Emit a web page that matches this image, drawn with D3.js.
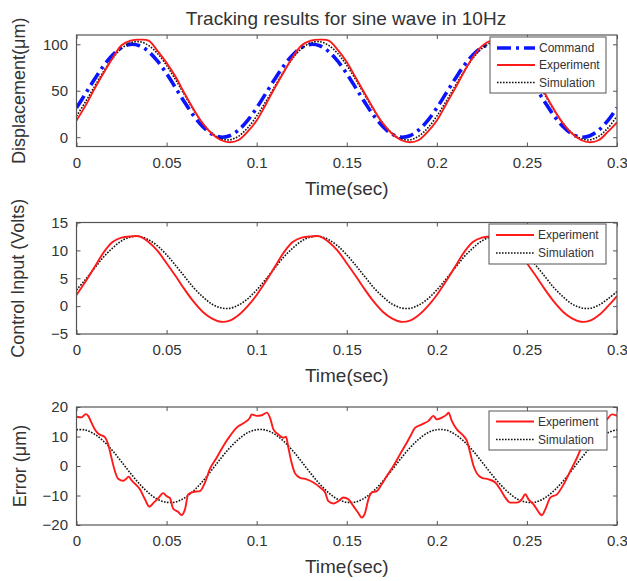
<!DOCTYPE html>
<html>
<head>
<meta charset="utf-8">
<script src="https://cdn.jsdelivr.net/npm/d3@7"></script>
<style>
  body { margin: 0; background: #fff; }
  text { font-family: "Liberation Sans", Arial, Helvetica, sans-serif; fill: #333; }
</style>
</head>
<body>
<svg id="chart" width="627" height="581"></svg>
<script>
// Sample times (s)
const time = [0,0.005,0.01,0.015,0.02,0.025,0.03,0.035,0.04,0.045,
  0.05,0.055,0.06,0.065,0.07,0.075,0.08,0.085,0.09,0.095,
  0.1,0.105,0.11,0.115,0.12,0.125,0.13,0.135,0.14,0.145,
  0.15,0.155,0.16,0.165,0.17,0.175,0.18,0.185,0.19,0.195,
  0.2,0.205,0.21,0.215,0.22,0.225,0.23,0.235,0.24,0.245,
  0.25,0.255,0.26,0.265,0.27,0.275,0.28,0.285,0.29,0.295,0.3];

const xTicks = [0, 0.05, 0.1, 0.15, 0.2, 0.25, 0.3];
const xTickLabels = ["0", "0.05", "0.1", "0.15", "0.2", "0.25", "0.3"];

// Displacement (um)
const dispCommand = [31.6,46.9,62.4,76.8,88.5,96.5,99.9,98.4,92.2,81.9,68.4,53.1,37.6,23.2,11.5,3.5,0.1,1.6,7.8,18.1,
  31.6,46.9,62.4,76.8,88.5,96.5,99.9,98.4,92.2,81.9,68.4,53.1,37.6,23.2,11.5,3.5,0.1,1.6,7.8,18.1,
  31.6,46.9,62.4,76.8,88.5,96.5,99.9,98.4,92.2,81.9,68.4,53.1,37.6,23.2,11.5,3.5,0.1,1.6,7.8,18.1,31.6];
const dispExperiment = [18,34,52,69,85,99,104,105,104,93,80,65,47,30,15,4,-3,-5.5,-3,6,
  18,35,53,70,86,99,104,105,104,94,81,64,47,30,15,4,-3,-5.5,-3,6,
  18,35,52,70,86,98,104,105,103,93,80,64,47,30,15,4,-3,-5.5,-3,6,16];
const dispSimulation = [22.7,38.1,54.6,70.7,84.8,95.4,101.6,102.8,98.8,90.0,77.3,61.9,45.4,29.3,15.2,4.6,-1.6,-2.8,1.2,10.0,
  22.7,38.1,54.6,70.7,84.8,95.4,101.6,102.8,98.8,90.0,77.3,61.9,45.4,29.3,15.2,4.6,-1.6,-2.8,1.2,10.0,
  22.7,38.1,54.6,70.7,84.8,95.4,101.6,102.8,98.8,90.0,77.3,61.9,45.4,29.3,15.2,4.6,-1.6,-2.8,1.2,10.0,22.7];
const dispTicks = [0, 50, 100];

// Control input (V)
const ctrlExperiment = [2.0,4.4,7.0,9.6,11.5,12.3,12.5,12.5,11.5,9.9,7.7,5.4,3.0,0.8,-1.0,-2.2,-2.8,-2.6,-1.6,0.0,
  2.0,4.4,7.0,9.6,11.5,12.3,12.5,12.5,11.5,9.9,7.7,5.4,3.0,0.8,-1.0,-2.2,-2.8,-2.6,-1.6,0.0,
  2.0,4.4,7.0,9.6,11.5,12.3,12.5,12.5,11.5,9.9,7.7,5.4,3.0,0.8,-1.0,-2.2,-2.8,-2.6,-1.6,0.0,1.8];
const ctrlSimulation = [2.9,4.8,6.8,8.8,10.4,11.7,12.4,12.5,11.9,10.8,9.2,7.3,5.3,3.3,1.7,0.4,-0.3,-0.4,0.2,1.3,
  2.9,4.8,6.8,8.8,10.4,11.7,12.4,12.5,11.9,10.8,9.2,7.3,5.3,3.3,1.7,0.4,-0.3,-0.4,0.2,1.3,
  2.9,4.8,6.8,8.8,10.4,11.7,12.4,12.5,11.9,10.8,9.2,7.3,5.3,3.3,1.7,0.4,-0.3,-0.4,0.2,1.3,2.6];
const ctrlTicks = [-5, 0, 5, 10, 15];

// Tracking error (um)
const errSimulation = [12.3,12.2,10.8,8.4,5.2,1.4,-2.5,-6.1,-9.1,-11.3,-12.3,-12.2,-10.8,-8.4,-5.2,-1.4,2.5,6.1,9.1,11.3,
  12.3,12.2,10.8,8.4,5.2,1.4,-2.5,-6.1,-9.1,-11.3,-12.3,-12.2,-10.8,-8.4,-5.2,-1.4,2.5,6.1,9.1,11.3,
  12.3,12.2,10.8,8.4,5.2,1.4,-2.5,-6.1,-9.1,-11.3,-12.3,-12.2,-10.8,-8.4,-5.2,-1.4,2.5,6.1,9.1,11.3,12.3];
const errExperimentTime = [0,0.0028,0.0052,0.0065,0.0083,0.0102,0.012,0.0139,0.0157,0.0176,0.0194,0.0213,0.0231,0.026,0.0278,0.029,0.0305,0.0324,0.0352,0.038,
  0.0405,0.0426,0.0454,0.0481,0.05,0.0519,0.0537,0.0565,0.0583,0.0602,0.062,0.0648,0.0685,0.0713,0.074,0.0778,0.0815,0.0852,0.0889,0.0926,
  0.0963,0.0972,0.1,0.1028,0.1056,0.1074,0.1093,0.112,0.1148,0.1163,0.1176,0.1194,0.1213,0.1241,0.1278,0.1315,0.1352,0.138,0.1398,0.1426,
  0.1454,0.1481,0.1509,0.1537,0.1565,0.1583,0.1602,0.162,0.1639,0.1667,0.1694,0.1722,0.1759,0.1796,0.1833,0.1852,0.188,0.1917,0.1954,0.1981,
  0.2,0.2028,0.2056,0.2065,0.2083,0.2111,0.2148,0.2167,0.2185,0.2204,0.2222,0.225,0.2287,0.2324,0.2352,0.238,0.2407,0.2444,0.2472,0.2491,
  0.2509,0.2537,0.2565,0.2583,0.2602,0.263,0.2667,0.2704,0.2741,0.2778,0.2815,0.285,0.29,0.2944,0.2972,0.3];
const errExperimentValue = [16.7,16.5,17.6,17,14.7,12.4,11,10.4,9.8,7.3,2.8,-1.7,-4.3,-5,-4.2,-3.6,-4.8,-6,-7.9,-11.3,
  -13.8,-12.6,-10.9,-9.2,-10.2,-10.9,-14.5,-15.6,-16.6,-14.7,-9.6,-8.8,-8.5,-5.6,-1.1,2.8,6.8,10.2,13,14.5,
  16.4,17.5,17,17.2,18.1,16.4,12.4,10.7,9.6,9.9,6.2,1.1,-2.5,-4,-4.5,-5.6,-7.3,-9,-11.9,-12.7,
  -11.9,-10.7,-11.3,-13.6,-16,-17.5,-15.8,-11.3,-9,-8.5,-6.2,-3.4,0,4,7.9,10,13,14.1,15.3,17,
  15.8,16.4,17.5,18.1,15.3,12.4,10.2,8.5,4.5,0,-2.5,-4,-4.5,-5.6,-7.9,-10.7,-12.4,-12.4,-11.3,-9.6,
  -11.3,-13,-15.6,-16.7,-14.7,-10.7,-9.6,-6.2,-1.7,2.8,7.9,10.8,13.8,15.8,17.5,17];
const errTicks = [-20, -10, 0, 10, 20];

const svg = d3.select("#chart");
const x = d3.scaleLinear().domain([0, 0.3]).range([76.5, 617]);

const RED = "#ff1a1a", BLUE = "#0a14ff", BLACK = "#111";

const styles = {
  command:    { stroke: BLUE,  width: 3.6, dash: "14,5,3,5" },
  experiment: { stroke: RED,   width: 1.9, dash: null },
  simulation: { stroke: BLACK, width: 1.6, dash: "1.6,1.4" }
};

const panels = [
  {
    id: "disp", top: 35, bottom: 146.5, domain: [-10, 110], ticks: dispTicks,
    ylabel: "Displacement(\u03bcm)", ylabelX: 19, title: "Tracking results for sine wave in 10Hz",
    series: [
      { key: "command", t: time, v: dispCommand },
      { key: "simulation", t: time, v: dispSimulation },
      { key: "experiment", t: time, v: dispExperiment }
    ],
    legend: { x: 490, y: 37, w: 116, h: 56, rows: [
      { key: "command", label: "Command", y: 48 },
      { key: "experiment", label: "Experiment", y: 65 },
      { key: "simulation", label: "Simulation", y: 82.5 }
    ] }
  },
  {
    id: "ctrl", top: 222.5, bottom: 334, domain: [-5, 15], ticks: ctrlTicks,
    ylabel: "Control Input (Volts)", ylabelX: 18,
    series: [
      { key: "simulation", t: time, v: ctrlSimulation },
      { key: "experiment", t: time, v: ctrlExperiment }
    ],
    legend: { x: 489, y: 224, w: 117, h: 40, rows: [
      { key: "experiment", label: "Experiment", y: 235 },
      { key: "simulation", label: "Simulation", y: 253 }
    ] }
  },
  {
    id: "err", top: 407, bottom: 525, domain: [-20, 20], ticks: errTicks,
    ylabel: "Error (\u03bcm)", ylabelX: 20,
    series: [
      { key: "simulation", t: time, v: errSimulation },
      { key: "experiment", t: errExperimentTime, v: errExperimentValue }
    ],
    legend: { x: 489, y: 411, w: 118, h: 39, rows: [
      { key: "experiment", label: "Experiment", y: 421.5 },
      { key: "simulation", label: "Simulation", y: 439.5 }
    ] }
  }
];

function applyStyle(sel, key) {
  const s = styles[key];
  sel.attr("fill", "none").attr("stroke", s.stroke).attr("stroke-width", s.width)
     .attr("stroke-linejoin", "round");
  if (s.dash) sel.attr("stroke-dasharray", s.dash);
}

panels.forEach((p, pi) => {
  const y = d3.scaleLinear().domain(p.domain).range([p.bottom, p.top]);
  const g = svg.append("g").attr("class", "panel-" + p.id);
  const [x0, x1] = x.range();

  g.append("clipPath").attr("id", "clip-" + p.id)
    .append("rect").attr("x", x0).attr("y", p.top).attr("width", x1 - x0).attr("height", p.bottom - p.top);

  // data lines
  const lines = g.append("g").attr("clip-path", `url(#clip-${p.id})`);
  p.series.forEach(s => {
    const pts = s.t.map((t, i) => [t, s.v[i]]);
    const line = d3.line().x(d => x(d[0])).y(d => y(d[1]))
      .curve(s.t === time ? d3.curveCatmullRom.alpha(0.5) : d3.curveMonotoneX);
    lines.append("path").datum(pts).attr("d", line).call(applyStyle, s.key);
  });

  // axes with inward ticks on all four sides
  const tickColor = "#555";
  const fmt = (d) => xTickLabels[xTicks.indexOf(d)];
  const ax = g.append("g").attr("transform", `translate(0,${p.bottom})`)
    .call(d3.axisBottom(x).tickValues(xTicks).tickFormat(fmt).tickSizeInner(-4).tickSizeOuter(0).tickPadding(10.5));
  const axT = g.append("g").attr("transform", `translate(0,${p.top})`)
    .call(d3.axisTop(x).tickValues(xTicks).tickFormat("").tickSizeInner(-4).tickSizeOuter(0));
  const ay = g.append("g").attr("transform", `translate(${x0},0)`)
    .call(d3.axisLeft(y).tickValues(p.ticks).tickSizeInner(-4).tickSizeOuter(0).tickPadding(8.5));
  const ayR = g.append("g").attr("transform", `translate(${x1},0)`)
    .call(d3.axisRight(y).tickValues(p.ticks).tickFormat("").tickSizeInner(-4).tickSizeOuter(0));
  [ax, axT, ay, ayR].forEach(a => {
    a.select(".domain").remove();
    a.selectAll("line").attr("stroke", tickColor).attr("stroke-width", 1);
    a.selectAll("text").attr("font-size", 15).attr("fill", "#333")
      .style("font-family", '"Liberation Sans", Arial, sans-serif');
  });

  // plot box
  g.append("rect").attr("x", x0).attr("y", p.top).attr("width", x1 - x0).attr("height", p.bottom - p.top)
    .attr("fill", "none").attr("stroke", tickColor).attr("stroke-width", 1.2);

  // legend
  const L = p.legend;
  const lg = g.append("g");
  lg.append("rect").attr("x", L.x).attr("y", L.y).attr("width", L.w).attr("height", L.h)
    .attr("fill", "#fff").attr("stroke", "#555").attr("stroke-width", 1);
  L.rows.forEach(r => {
    lg.append("line").attr("x1", L.x + 7).attr("x2", L.x + 45).attr("y1", r.y).attr("y2", r.y)
      .call(applyStyle, r.key);
    lg.append("text").attr("x", L.x + 49).attr("y", r.y).attr("dy", "0.36em")
      .attr("font-size", 12).text(r.label);
  });

  // axis labels
  g.append("text").attr("x", (x0 + x1) / 2).attr("y", p.bottom + 48)
    .attr("text-anchor", "middle").attr("font-size", 19).text("Time(sec)");
  g.append("text").attr("transform", `translate(${p.ylabelX},${(p.top + p.bottom) / 2}) rotate(-90)`)
    .attr("text-anchor", "middle").attr("dy", "0.35em").attr("font-size", 18).text(p.ylabel);

  if (p.title) {
    g.append("text").attr("x", 346).attr("y", 25).attr("text-anchor", "middle")
      .attr("font-size", 19).text(p.title);
  }
});
</script>
</body>
</html>
